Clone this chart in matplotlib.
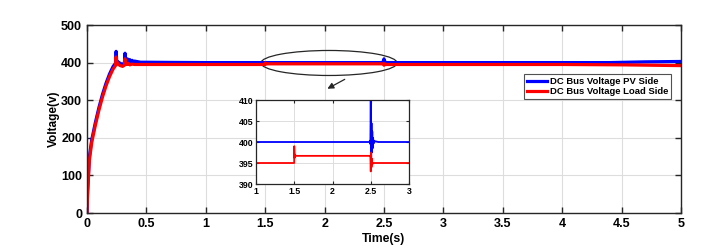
import matplotlib
matplotlib.use("Agg")
import matplotlib.pyplot as plt
from matplotlib.patches import Ellipse

plt.rcParams['font.family'] = ['Liberation Sans', 'DejaVu Sans']
plt.rcParams['font.weight'] = 'bold'

# Main plot data
t_pv = [0, 0.005, 0.02, 0.04, 0.05, 0.07, 0.1, 0.13, 0.16, 0.19, 0.22, 0.24, 0.245, 0.25,
        0.255, 0.26, 0.28, 0.3, 0.315, 0.32, 0.325, 0.33, 0.34, 0.35, 0.36, 0.37, 0.38,
        0.39, 0.4, 0.45, 0.5, 0.7, 1.0, 1.5, 2.0, 2.49, 2.5, 2.505, 2.51, 2.52, 2.55, 3.0,
        4.0, 4.4, 4.7, 5.0]
v_pv = [0, 60, 150, 195, 210, 240, 280, 315, 345, 370, 390, 398, 430, 405,
        400, 402, 398, 395, 400, 425, 405, 400, 410, 402, 408, 400, 406,
        401, 404, 401, 401, 400.5, 400, 400, 400, 400, 410, 397, 402, 400, 400, 400,
        400, 400, 402, 403]
t_ld = [0, 0.005, 0.02, 0.04, 0.05, 0.07, 0.1, 0.13, 0.16, 0.19, 0.22, 0.24, 0.245, 0.25,
        0.255, 0.26, 0.28, 0.3, 0.315, 0.32, 0.325, 0.33, 0.34, 0.35, 0.36, 0.38, 0.4,
        0.5, 1.0, 1.499, 1.5, 1.51, 2.49, 2.5, 2.505, 2.51, 3.0, 4.0, 4.5, 5.0]
v_ld = [0, 50, 140, 188, 203, 233, 273, 308, 338, 363, 383, 392, 415, 398,
        400, 396, 392, 390, 393, 410, 396, 398, 395, 398, 394, 396, 395,
        395, 395, 395, 399, 396.7, 396.7, 393, 397, 395, 395, 395, 394, 392]

# Inset data
ti_pv = [1, 2.48, 2.49, 2.495, 2.5, 2.505, 2.51, 2.515, 2.52, 2.525, 2.53, 2.54, 2.55, 2.6, 3]
vi_pv = [400, 400, 400.3, 399.5, 410, 396, 404.5, 397.5, 402.5, 398.5, 401, 399.7, 400.2, 400, 400]
ti_ld = [1, 1.499, 1.5, 1.505, 1.51, 1.52, 2.49, 2.495, 2.5, 2.505, 2.51, 2.515, 2.52, 2.53, 3]
vi_ld = [395, 395, 399, 396.2, 397, 396.7, 396.7, 396.7, 393, 397.5, 394, 396, 394.7, 395, 395]

x_ticks = [0, 0.5, 1, 1.5, 2, 2.5, 3, 3.5, 4, 4.5, 5]
y_ticks = [0, 100, 200, 300, 400, 500]
xi_ticks = [1, 1.5, 2, 2.5, 3]
yi_ticks = [390, 395, 400, 405, 410]

BLUE = '#0000ff'
RED = '#ff0000'

fig = plt.figure(figsize=(7.28, 2.48), dpi=100)
ax = fig.add_axes([87/728, 35/248, 594/728, 188/248])
ax.plot(t_pv, v_pv, color=BLUE, lw=2.3, label='DC Bus Voltage PV Side')
ax.plot(t_ld, v_ld, color=RED, lw=2.3, label='DC Bus Voltage Load Side')
ax.set_xlim(0, 5)
ax.set_ylim(0, 500)
ax.set_xticks(x_ticks)
ax.set_xticklabels(['%g' % v for v in x_ticks])
ax.set_yticks(y_ticks)
ax.grid(True, color='#dddddd', lw=0.8)
ax.set_axisbelow(True)
ax.tick_params(direction='in', top=True, right=True, labelsize=9, color='#262626',
               length=4, width=1)
for s in ax.spines.values():
    s.set_color('#262626')
    s.set_linewidth(1)
ax.set_xlabel('Time(s)', fontsize=8.8, fontweight='bold', labelpad=2)
ax.set_ylabel('Voltage(v)', fontsize=8.5, fontweight='bold', labelpad=1)
leg = ax.legend(loc='upper left', bbox_to_anchor=((524-87)/594, (213-74)/188),
                fontsize=6.8, frameon=True, fancybox=False, edgecolor='#262626',
                borderpad=0.3, handlelength=2.1, handletextpad=0.35, labelspacing=0.15,
                borderaxespad=0)
leg.get_frame().set_linewidth(0.8)

ell = Ellipse((2.037, 399), 1.145, 66.5, fill=False, edgecolor='#262626', lw=0.9)
ax.add_patch(ell)
ax.annotate('', xy=(2.003, 327), xytext=(2.19, 359),
            arrowprops=dict(arrowstyle='-|>', color='#262626', lw=0.9, mutation_scale=9))

axi = fig.add_axes([256/728, 64/248, 153/728, 84/248])
axi.plot(ti_pv, vi_pv, color=BLUE, lw=1.3)
axi.plot(ti_ld, vi_ld, color=RED, lw=1.3)
axi.set_xlim(1, 3)
axi.set_ylim(390, 410)
axi.set_xticks(xi_ticks)
axi.set_xticklabels(['%g' % v for v in xi_ticks])
axi.set_yticks(yi_ticks)
axi.grid(True, color='#dddddd', lw=0.7)
axi.set_axisbelow(True)
axi.tick_params(direction='in', top=True, right=True, labelsize=6.3, color='#262626',
                length=2.5, width=0.8, pad=2)
for s in axi.spines.values():
    s.set_color('#262626')
    s.set_linewidth(0.9)

fig.savefig('out.png', dpi=100)
